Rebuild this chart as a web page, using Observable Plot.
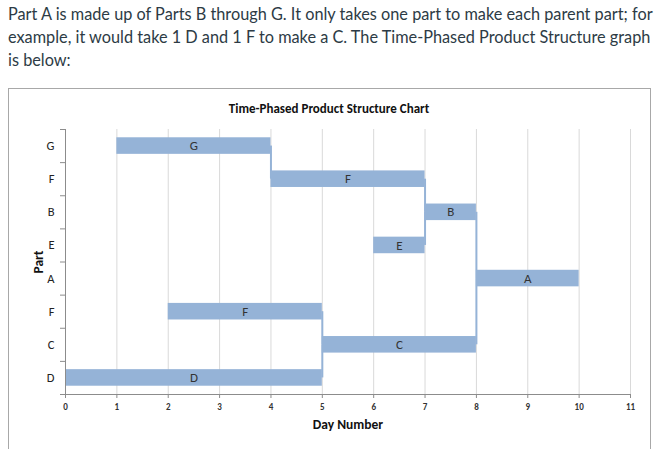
<!DOCTYPE html>
<html>
<head>
<meta charset="utf-8">
<script src="https://cdn.jsdelivr.net/npm/d3@7"></script>
<script src="https://cdn.jsdelivr.net/npm/@observablehq/plot@0.6"></script>
<style>
  html, body { margin: 0; padding: 0; background: #fff; }
  #intro {
    position: absolute; left: 8px; top: 2px; width: 662px; white-space: nowrap;
    font-family: Lato, sans-serif; font-size: 16.3px; line-height: 23px; color: #2d3b45;
  }
  #box {
    position: absolute; left: 8px; top: 88px; width: 641px; height: 360px;
    border-left: 1px solid #a8a8a8; border-top: 1px solid #a8a8a8; border-right: 1px solid #a8a8a8;
  }
  #box svg { display: block; font-family: Calibri, Carlito, "Liberation Sans", sans-serif; }
</style>
</head>
<body>
<div id="intro">Part A is made up of Parts B through G. It only takes one part to make each parent part; for<br>example, it would take 1 D and 1 F to make a C. The Time-Phased Product Structure graph<br>is below:</div>
<div id="box"></div>
<script>
// Rows top to bottom
const parts  = ["G", "F", "B", "E", "A", "F", "C", "D"];
const starts = [1, 4, 7, 6, 8, 2, 5, 0];
const ends   = [4, 7, 8, 7, 10, 5, 8, 5];
// Parent row index for each row (-1 = none)
const parents = [1, 2, 4, 2, -1, 6, 4, 6];
const dayTicks = [0, 1, 2, 3, 4, 5, 6, 7, 8, 9, 10, 11];
const chartTitle = "Time-Phased Product Structure Chart";

const rows = parts.map((p, i) => ({i, part: p, start: starts[i], end: ends[i], parent: parents[i]}));
const links = rows.filter(d => d.parent >= 0).map(d => ({x: d.end, from: d.i + 0.5, to: d.parent + 0.5}));
const boundaries = d3.range(parts.length + 1);
const centers = rows.map(d => d.i + 0.5);

const barColor = "#95b3d7";

const chart = Plot.plot({
  width: 641,
  height: 360,
  marginLeft: 56,
  marginRight: 20,
  marginTop: 40,
  marginBottom: 55,
  style: {fontSize: "10px", color: "#222", overflow: "visible"},
  x: {domain: [0, 11]},
  y: {domain: [0, parts.length], reverse: true},
  marks: [
    Plot.ruleX(dayTicks.filter(d => d > 0), {stroke: "#d9d9d9", strokeWidth: 1}),
    Plot.ruleX(links, {x: "x", y1: "from", y2: "to", stroke: barColor, strokeWidth: 2}),
    Plot.rect(rows, {x1: "start", x2: "end", y1: d => d.i + 0.25, y2: d => d.i + 0.75, fill: barColor}),
    Plot.text(rows, {x: d => (d.start + d.end) / 2, y: d => d.i + 0.5, text: "part", fill: "#333", fontSize: 13}),
    // y axis line and boundary ticks
    Plot.ruleX([0], {stroke: "#8c8c8c"}),
    Plot.axisY({ticks: boundaries, tickSize: 5, tickFormat: () => "", stroke: "#8c8c8c", label: null}),
    Plot.axisY({ticks: centers, tickSize: 0, tickPadding: 11, tickFormat: d => parts[Math.floor(d)], fill: "#222",
      label: "Part", labelAnchor: "center", labelOffset: 32, labelArrow: "none"}),
    // x axis
    Plot.ruleY([parts.length], {stroke: "#8c8c8c"}),
    Plot.axisX({ticks: dayTicks, tickSize: 4, tickPadding: 5, stroke: "#8c8c8c", fontWeight: "bold", fill: "#333",
      label: "Day Number", labelAnchor: "center", labelOffset: 34, labelArrow: "none"}),
    Plot.text([chartTitle], {frameAnchor: "top", dy: -26, dx: -19, fontWeight: "bold", fontSize: 13, fill: "#111"})
  ]
});
document.getElementById("box").appendChild(chart);
// font sizes for axis texts
const setSize = (sel, size, extra) => chart.querySelectorAll(sel).forEach(g => {
  g.style.fontSize = size;
  g.querySelectorAll("text").forEach(t => t.style.fontSize = size);
  if (extra) extra(g);
});
setSize("[aria-label='y-axis tick label']", "12.5px");
setSize("[aria-label='x-axis tick label']", "9px");
setSize("[aria-label='y-axis label'], [aria-label='x-axis label']", "13.5px", g => {
  g.style.fontWeight = "bold";
  g.style.fill = "#111";
});
</script>
</body>
</html>
